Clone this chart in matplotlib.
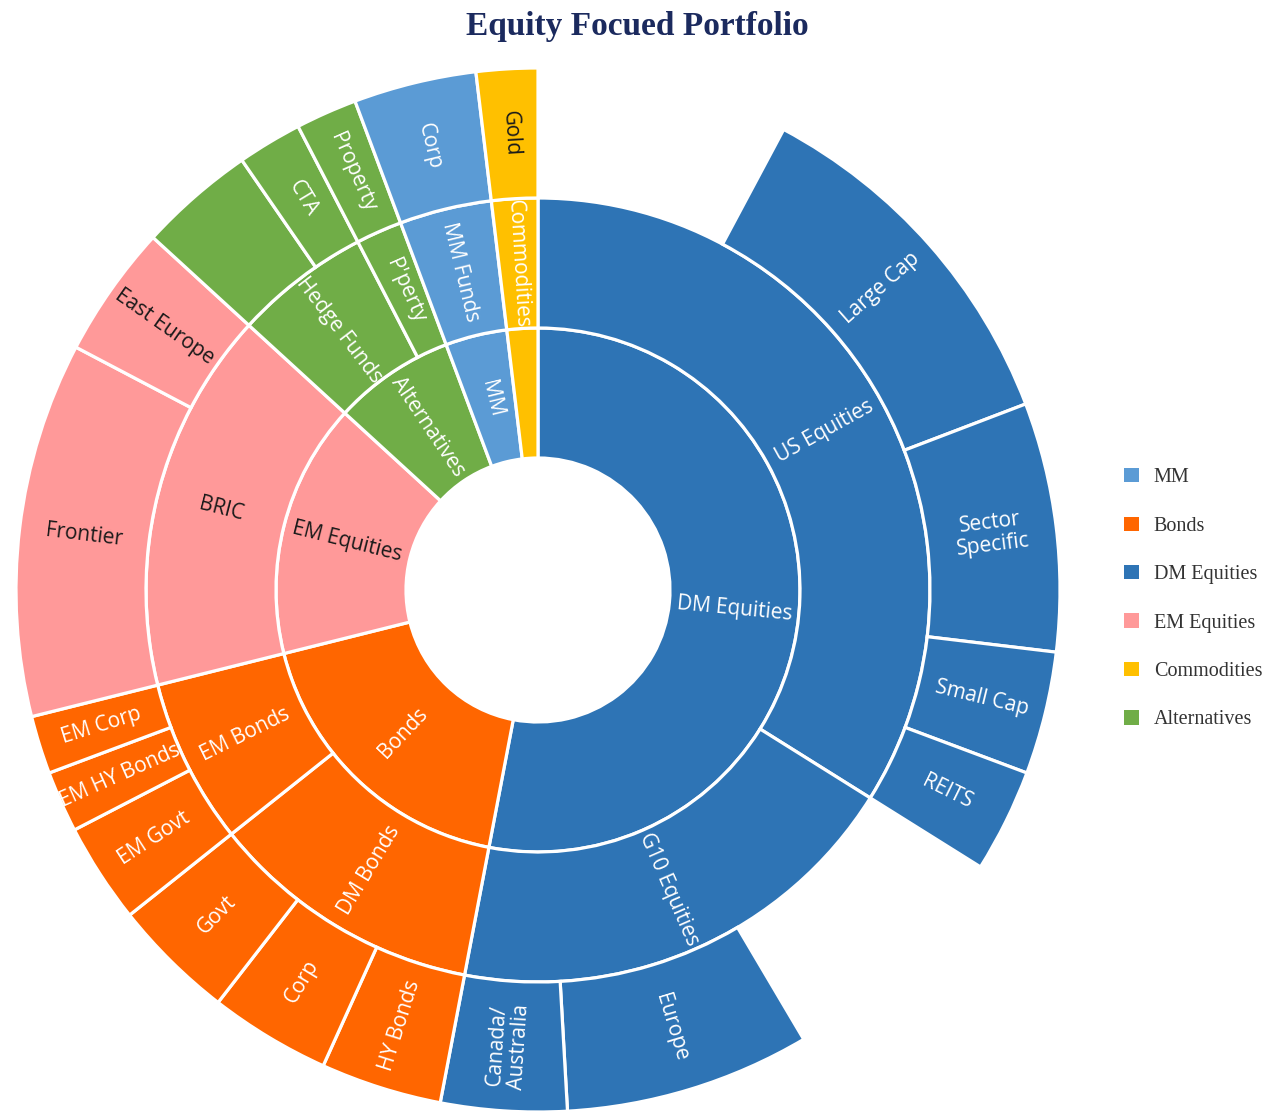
import matplotlib
matplotlib.use("Agg")
import matplotlib.pyplot as plt
from matplotlib.patches import Patch
import numpy as np

# ---------------- data ----------------
level1 = ["DM Equities", "DM Equities", "DM Equities", "DM Equities", "DM Equities",
          "DM Equities", "DM Equities", "DM Equities",
          "Bonds", "Bonds", "Bonds", "Bonds", "Bonds", "Bonds",
          "EM Equities", "EM Equities",
          "Alternatives", "Alternatives", "Alternatives",
          "MM", "Commodities"]
level2 = ["US Equities", "US Equities", "US Equities", "US Equities", "US Equities",
          "G10 Equities", "G10 Equities", "G10 Equities",
          "DM Bonds", "DM Bonds", "DM Bonds", "EM Bonds", "EM Bonds", "EM Bonds",
          "BRIC", "BRIC",
          "Hedge Funds", "Hedge Funds", "P'perty",
          "MM Funds", "Commodities"]
level3 = [None, "Large Cap", "Sector\nSpecific", "Small Cap", "REITS",
          None, "Europe", "Canada/\nAustralia",
          "HY Bonds", "Corp", "Govt", "EM Govt", "EM HY Bonds", "EM Corp",
          "Frontier", "East Europe",
          "", "CTA", "Property",
          "Corp", "Gold"]
values = [7.8, 11.4, 7.7, 3.8, 3.2,
          7.6, 7.6, 3.9,
          3.75, 3.75, 3.8, 3.1, 1.9, 1.8,
          11.6, 4.1,
          3.6, 2.0, 1.9,
          3.8, 1.9]

legend_labels = ["MM", "Bonds", "DM Equities", "EM Equities", "Commodities", "Alternatives"]
legend_colors = ["#5B9BD5", "#FF6600", "#2E74B5", "#FF9999", "#FFC000", "#70AD47"]

title = "Equity Focued Portfolio"
hidden_labels = {("ring1", "Commodities")}
dark_text = {"EM Equities", "BRIC", "Frontier", "East Europe", "Gold"}

# ---------------- grouping ----------------
color_of = dict(zip(legend_labels, legend_colors))


def group(keys, vals):
    out_k, out_v = [], []
    for k, v in zip(keys, vals):
        if out_k and out_k[-1] == k:
            out_v[-1] += v
        else:
            out_k.append(k)
            out_v.append(v)
    return out_k, out_v


r1_keys, r1_vals = group(level1, values)
r2_keys, r2_vals = group(list(zip(level1, level2)), values)
r3_keys = list(zip(level1, level3))
r3_vals = values

# ---------------- figure ----------------
W, H = 1272, 1115
fig = plt.figure(figsize=(W / 100, H / 100), dpi=100)
ax = fig.add_axes([0, 0, 1, 1])

cx, cy = 538, H - 590
R0, R1, R2, R3 = 132, 262, 392, 522
ring_w = 130
edge = dict(edgecolor="white", linewidth=2.3)

w1, _ = ax.pie(r1_vals, radius=R1, center=(cx, cy), startangle=90, counterclock=False,
               colors=[color_of[k] for k in r1_keys], wedgeprops=dict(width=ring_w, **edge))
w2, _ = ax.pie(r2_vals, radius=R2, center=(cx, cy), startangle=90, counterclock=False,
               colors=[color_of[k[0]] for k in r2_keys], wedgeprops=dict(width=ring_w, **edge))
w3, _ = ax.pie(r3_vals, radius=R3, center=(cx, cy), startangle=90, counterclock=False,
               colors=[color_of[k[0]] for k in r3_keys], wedgeprops=dict(width=ring_w, **edge))
for w, k in zip(w3, r3_keys):
    if k[1] is None:
        w.set_visible(False)

label_font = dict(family=["Open Sans", "DejaVu Sans"], fontsize=15)


def put_labels(wedges, names, rmid, ringname):
    for w, name in zip(wedges, names):
        if name is None or name == "" or (ringname, name) in hidden_labels:
            continue
        a = np.deg2rad((w.theta1 + w.theta2) / 2)
        x = cx + rmid * np.cos(a)
        y = cy + rmid * np.sin(a)
        deg = np.rad2deg(a) % 360
        rot = deg if (deg <= 90 or deg > 270) else deg - 180
        col = "#1a1a1a" if name in dark_text else "white"
        ax.text(x, y, name, rotation=rot, rotation_mode="anchor", ha="center", va="center",
                color=col, linespacing=1.1, **label_font)


put_labels(w1, r1_keys, (R0 + R1) / 2, "ring1")
put_labels(w2, [k[1] for k in r2_keys], (R1 + R2) / 2, "ring2")
put_labels(w3, [k[1] for k in r3_keys], (R2 + R3) / 2, "ring3")

ax.set_xlim(0, W)
ax.set_ylim(0, H)
ax.set_aspect("equal")
ax.axis("off")

fig.text(637 / W, 1 - 26 / H, title, ha="center", va="center",
         family=["Liberation Serif", "DejaVu Serif"], fontweight="bold",
         fontsize=24, color="#1B2A5E")

handles = [Patch(facecolor=c, edgecolor="none") for c in legend_colors]
fig.legend(handles, legend_labels, loc="upper left",
           bbox_to_anchor=(1106 / W, 1 - 450 / H), frameon=False,
           prop=dict(family=["Liberation Serif", "DejaVu Serif"], size=14.5),
           labelspacing=1.45, handlelength=0.72, handleheight=0.72,
           handletextpad=0.75, labelcolor="#333333")

fig.savefig("out.png", dpi=100)
